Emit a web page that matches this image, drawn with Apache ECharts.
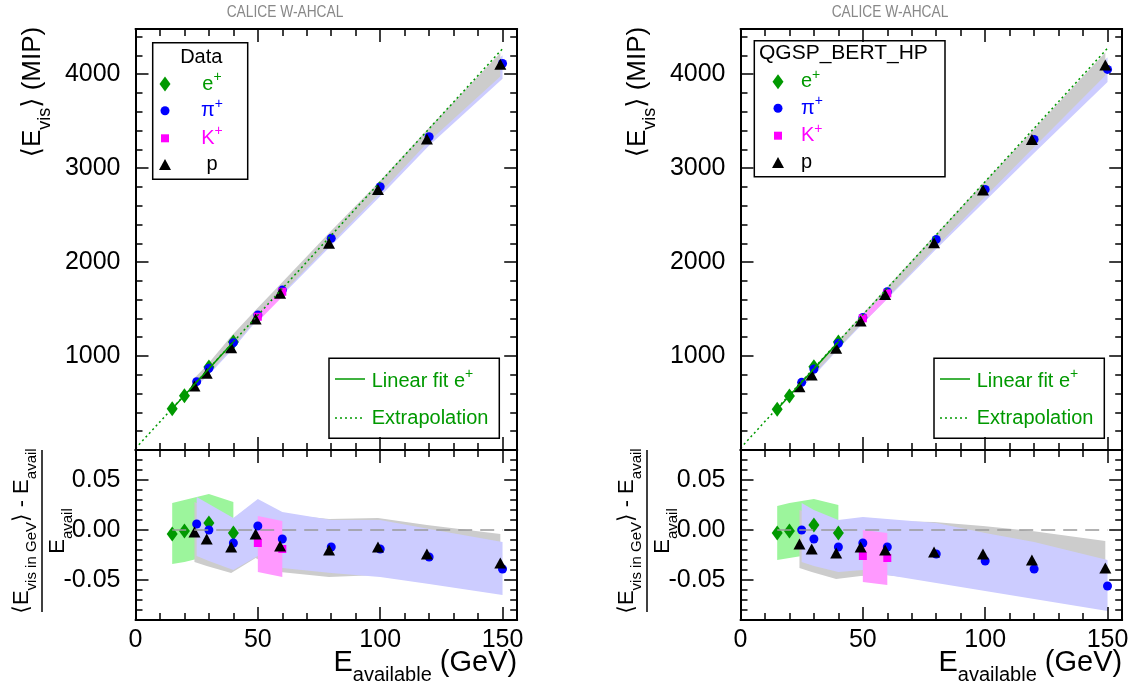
<!DOCTYPE html>
<html>
<head>
<meta charset="utf-8">
<script src="https://cdn.jsdelivr.net/npm/echarts@6.0.0/dist/echarts.min.js"></script>
<style>
html, body { margin: 0; padding: 0; background: #ffffff; }
#chart { width: 1134px; height: 691px; }
</style>
</head>
<body>
<div id="chart"></div>
<script>
// ===================== DATA =====================
const xTickLabels = [0, 50, 100, 150];
const yTopTickLabels = [1000, 2000, 3000, 4000];
const yBotTickLabels = [-0.05, 0.00, 0.05];

// available energies (GeV)
const energyE = [15, 20, 30, 40];                                  // e+
const energyPi = [25, 30, 40, 50, 60, 80, 100, 120, 150];          // pi+
const energyK = [50, 60];                                          // K+
const energyP = [24.1, 29.1, 39.1, 49.1, 59.1, 79.1, 99.1, 119.1, 149.1]; // p

// ---- Data panel: <E_vis> (MIP) ----
const dataVisE = [440, 578, 884, 1150];
const dataVisPi = [727, 869, 1142, 1436, 1702, 2252, 2801, 3333, 4113];
const dataVisK = [1418, 1684];
const dataVisP = [681, 816, 1089, 1394, 1667, 2199, 2773, 3309, 4106];
// ---- Data panel: relative residual ----
const dataResE = [-0.004, -0.001, 0.007, -0.003];
const dataResPi = [0.006, 0.000, -0.013, 0.004, -0.009, -0.017, -0.019, -0.027, -0.039];
const dataResK = [-0.013, -0.019];
const dataResP = [-0.002, -0.009, -0.017, -0.004, -0.016, -0.020, -0.017, -0.024, -0.033];
// ---- Data panel: uncertainty bands (top, MIP) ----
const dataTopBandPiUp = [760, 890, 1175, 1475, 1740, 2285, 2830, 3385, 4200];
const dataTopBandPiLo = [680, 800, 1080, 1395, 1650, 2175, 2700, 3240, 3950];
const dataTopBandPUp = [765, 900, 1210, 1490, 1760, 2310, 2840, 3405, 4225];
const dataTopBandPLo = [670, 790, 1075, 1380, 1645, 2180, 2710, 3265, 3975];
const dataTopBandKUp = [1445, 1725];
const dataTopBandKLo = [1365, 1630];
// ---- Data panel: uncertainty bands (residual) ----
const dataBandEUp = [0.027, 0.030, 0.036, 0.028];
const dataBandELo = [-0.034, -0.032, -0.026, -0.024];
const dataBandPUp = [0.028, 0.022, 0.010, 0.028, 0.016, 0.011, 0.012, 0.005, -0.004];
const dataBandPLo = [-0.032, -0.036, -0.043, -0.028, -0.042, -0.047, -0.045, -0.048, -0.050];
const dataBandPiUp = [0.033, 0.026, 0.012, 0.031, 0.018, 0.010, 0.010, 0.001, -0.012];
const dataBandPiLo = [-0.026, -0.031, -0.040, -0.026, -0.038, -0.043, -0.047, -0.054, -0.065];
const dataBandKUp = [0.014, 0.009];
const dataBandKLo = [-0.042, -0.047];
// ---- Data panel: e+ linear fit and extrapolation ----
const dataFitX = [15, 40];
const dataFitY = [440, 1150];
const dataExtrapX = [0, 150];
const dataExtrapY = [17, 4270];

// ---- QGSP_BERT_HP panel: <E_vis> (MIP) ----
const simVisE = [433, 574, 886, 1150];
const simVisPi = [720, 862, 1135, 1411, 1684, 2241, 2773, 3305, 4050];
const simVisK = [1401, 1667];
const simVisP = [674, 798, 1082, 1372, 1656, 2205, 2766, 3305, 4096];
// ---- QGSP_BERT_HP panel: relative residual ----
const simResE = [-0.003, -0.001, 0.005, -0.003];
const simResPi = [0.000, -0.009, -0.017, -0.013, -0.017, -0.024, -0.031, -0.039, -0.056];
const simResK = [-0.026, -0.028];
const simResP = [-0.014, -0.019, -0.023, -0.017, -0.020, -0.022, -0.024, -0.030, -0.038];
// ---- QGSP_BERT_HP panel: bands (top, MIP) ----
const simTopBandPiUp = [730, 870, 1150, 1430, 1715, 2270, 2800, 3340, 4180];
const simTopBandPiLo = [665, 790, 1075, 1345, 1610, 2140, 2650, 3160, 3915];
const simTopBandPUp = [705, 850, 1140, 1425, 1710, 2275, 2835, 3390, 4230];
const simTopBandPLo = [650, 785, 1060, 1335, 1600, 2140, 2670, 3200, 3985];
const simTopBandKUp = [1425, 1690];
const simTopBandKLo = [1350, 1610];
// ---- QGSP_BERT_HP panel: bands (residual) ----
const simBandEUp = [0.024, 0.027, 0.031, 0.025];
const simBandELo = [-0.030, -0.028, -0.024, -0.022];
const simBandPUp = [0.020, 0.016, 0.006, 0.009, 0.009, 0.008, 0.004, -0.001, -0.011];
const simBandPLo = [-0.038, -0.042, -0.049, -0.046, -0.045, -0.050, -0.055, -0.060, -0.070];
const simBandPiUp = [0.027, 0.020, 0.010, 0.013, 0.011, 0.007, -0.003, -0.012, -0.030];
const simBandPiLo = [-0.032, -0.036, -0.042, -0.040, -0.045, -0.053, -0.061, -0.069, -0.081];
const simBandKUp = [0.000, -0.003];
const simBandKLo = [-0.052, -0.055];
// ---- QGSP_BERT_HP panel: e+ fit ----
const simFitX = [15, 40];
const simFitY = [433, 1150];
const simExtrapX = [0, 150];
const simExtrapY = [20, 4275];

// reference line of the residual plots
const zeroLineX = [15, 150];
const zeroLineY = [0, 0];

// texts
const panelTitle = 'CALICE W-AHCAL';
const legendHeaders = ['Data', 'QGSP_BERT_HP'];
const legendNames = ['e', 'π', 'K', 'p'];
const legendSups = ['+', '+', '+', ''];
const fitLegendNames = ['Linear fit e', 'Extrapolation'];

// ===================== STYLE / LAYOUT =====================
const FONT = "'Liberation Sans', Arial, Helvetica, 'DejaVu Sans', sans-serif";
const C_GREEN = '#009900', C_BLUE = '#0000ff', C_MAG = '#ff00ff', C_BLACK = '#000000';
const B_GREEN = '#9cf59c', B_GRAY = '#cccccc', B_BLUE = '#ccccff', B_MAG = '#ff99ff';
const X_MIN = 0, X_MAX = 156;
const YT_MIN = 0, YT_MAX = 4480;
const YB_MIN = -0.09, YB_MAX = 0.08;
const PLOT_W = 381.7;
const PANEL_LEFT = [135.5, 740.5];
const TICK_FONT = 25;

const grids = [], xAxes = [], yAxes = [], series = [], graphics = [];

function addAxis(dim, gridIndex, position, min, max, interval, tickLen, showLine, label) {
  const ax = {
    type: 'value', gridIndex: gridIndex, position: position, min: min, max: max, interval: interval,
    axisLine: { show: showLine, onZero: false, lineStyle: { color: '#000', width: 2 } },
    axisTick: { show: tickLen > 0, inside: true, length: tickLen, lineStyle: { color: '#000', width: 1.5 } },
    axisLabel: { show: false },
    splitLine: { show: false },
    minorTick: { show: false },
    minorSplitLine: { show: false },
    axisPointer: { show: false },
    silent: true,
    z: 10
  };
  if (label) {
    ax.axisLabel = Object.assign({ show: true, color: '#000', fontSize: TICK_FONT, fontFamily: FONT,
      hideOverlap: false, showMinLabel: true, showMaxLabel: true }, label);
  }
  const arr = dim === 'x' ? xAxes : yAxes;
  arr.push(ax);
  return arr.length - 1;
}

function bandSeries(xi, yi, xs, up, lo, color) {
  return {
    type: 'custom', xAxisIndex: xi, yAxisIndex: yi, silent: true, animation: false,
    data: xs.map((x, i) => [x, lo[i], up[i]]),
    encode: { x: 0, y: [1, 2] },
    renderItem: function (params, api) {
      if (params.dataIndex !== 0) return;
      const top = xs.map((x, i) => api.coord([x, up[i]]));
      const bot = xs.map((x, i) => api.coord([x, lo[i]])).reverse();
      return { type: 'polygon', shape: { points: top.concat(bot) }, style: { fill: color } };
    }
  };
}
function pointSeries(xi, yi, xs, ys, symbol, size, color) {
  return {
    type: 'scatter', xAxisIndex: xi, yAxisIndex: yi, silent: true, animation: false,
    data: xs.map((x, i) => [x, ys[i]]), symbol: symbol, symbolSize: size,
    itemStyle: { color: color, opacity: 1, borderWidth: 0 }, emphasis: { disabled: true }
  };
}
function lineSeries(xi, yi, xs, ys, color, width, dash) {
  return {
    type: 'line', xAxisIndex: xi, yAxisIndex: yi, silent: true, animation: false,
    data: xs.map((x, i) => [x, ys[i]]), showSymbol: false, symbol: 'none',
    lineStyle: { color: color, width: width, type: dash || 'solid' }, emphasis: { disabled: true }
  };
}

const isTick = (arr, v) => arr.some(t => Math.abs(t - v) < 1e-9);

function buildPanel(p, d) {
  const L = PANEL_LEFT[p];
  const gT = grids.length; grids.push({ left: L, top: 29, width: PLOT_W, height: 421, outerBoundsMode: 'none' });
  const gB = grids.length; grids.push({ left: L, top: 450, width: PLOT_W, height: 170, outerBoundsMode: 'none' });
  const gM = grids.length; grids.push({ left: L, top: 480, width: PLOT_W, height: 100, outerBoundsMode: 'none' });

  // ---- top plot axes ----
  const tx = addAxis('x', gT, 'bottom', X_MIN, X_MAX, 10, 7, true);
  addAxis('x', gT, 'bottom', X_MIN, X_MAX, 50, 13, false);
  addAxis('x', gT, 'top', X_MIN, X_MAX, 10, 7, true);
  addAxis('x', gT, 'top', X_MIN, X_MAX, 50, 13, false);
  const ty = addAxis('y', gT, 'left', YT_MIN, YT_MAX, 200, 7, true);
  addAxis('y', gT, 'left', YT_MIN, YT_MAX, 1000, 13, false,
    { formatter: v => isTick(yTopTickLabels, v) ? String(v) : '', margin: 15 });
  addAxis('y', gT, 'right', YT_MIN, YT_MAX, 200, 7, true);
  addAxis('y', gT, 'right', YT_MIN, YT_MAX, 1000, 13, false);

  // ---- bottom plot axes ----
  const bx = addAxis('x', gB, 'bottom', X_MIN, X_MAX, 10, 7, true);
  addAxis('x', gB, 'bottom', X_MIN, X_MAX, 50, 13, false,
    { formatter: v => isTick(xTickLabels, v) ? String(v) : '', margin: 8 });
  addAxis('x', gB, 'top', X_MIN, X_MAX, 10, 7, true);
  addAxis('x', gB, 'top', X_MIN, X_MAX, 50, 13, false);
  const by = addAxis('y', gB, 'left', YB_MIN, YB_MAX, 0.01, 7, true);
  addAxis('y', gB, 'right', YB_MIN, YB_MAX, 0.01, 7, true);

  // ---- major ticks of the residual axis ----
  xAxes.push({ type: 'value', gridIndex: gM, show: false, min: 0, max: 1 });
  addAxis('y', gM, 'left', -0.05, 0.05, 0.05, 13, false,
    { formatter: v => isTick(yBotTickLabels, v) ? v.toFixed(2) : '', margin: 15 });
  addAxis('y', gM, 'right', -0.05, 0.05, 0.05, 13, false);

  // ---- top plot series ----
  series.push(bandSeries(tx, ty, energyPi, d.topPiUp, d.topPiLo, B_BLUE));
  series.push(bandSeries(tx, ty, energyP, d.topPUp, d.topPLo, B_GRAY));
  series.push(bandSeries(tx, ty, energyK, d.topKUp, d.topKLo, B_MAG));
  series.push(lineSeries(tx, ty, d.extrapX, d.extrapY, C_GREEN, 1.5, [2, 3]));
  series.push(lineSeries(tx, ty, d.fitX, d.fitY, C_GREEN, 1.5));
  series.push(pointSeries(tx, ty, energyE, d.visE, 'diamond', [11, 15], C_GREEN));
  series.push(pointSeries(tx, ty, energyPi, d.visPi, 'circle', 9, C_BLUE));
  series.push(pointSeries(tx, ty, energyK, d.visK, 'rect', 8, C_MAG));
  series.push(pointSeries(tx, ty, energyP, d.visP, 'triangle', [12, 11], C_BLACK));

  // ---- bottom plot series ----
  series.push(bandSeries(bx, by, energyE, d.bandEUp, d.bandELo, B_GREEN));
  series.push(bandSeries(bx, by, energyP, d.bandPUp, d.bandPLo, B_GRAY));
  series.push(bandSeries(bx, by, energyPi, d.bandPiUp, d.bandPiLo, B_BLUE));
  series.push(bandSeries(bx, by, energyK, d.bandKUp, d.bandKLo, B_MAG));
  series.push(lineSeries(bx, by, zeroLineX, zeroLineY, '#999999', 1.5, [14, 8]));
  series.push(pointSeries(bx, by, energyE, d.resE, 'diamond', [11, 15], C_GREEN));
  series.push(pointSeries(bx, by, energyPi, d.resPi, 'circle', 9, C_BLUE));
  series.push(pointSeries(bx, by, energyK, d.resK, 'rect', 8, C_MAG));
  series.push(pointSeries(bx, by, energyP, d.resP, 'triangle', [12, 11], C_BLACK));

  // ---- texts ----
  const dx = L - PANEL_LEFT[0];
  const RICH_Y = {
    b: { fontFamily: FONT, fontSize: 26, lineHeight: 42, fill: '#000' },
    s: { fontFamily: FONT, fontSize: 18, lineHeight: 18, verticalAlign: 'bottom', fill: '#000' }
  };
  const RICH_X = {
    b: { fontFamily: FONT, fontSize: 29, lineHeight: 44, fill: '#000' },
    s: { fontFamily: FONT, fontSize: 20, lineHeight: 20, verticalAlign: 'bottom', fill: '#000' }
  };
  graphics.push({ type: 'text', x: 285 + dx, y: 13, scaleX: 0.86, silent: true, z: 100,
    style: { text: panelTitle, fontFamily: FONT, fontSize: 16, fill: '#888888', align: 'center', verticalAlign: 'middle' } });
  graphics.push({ type: 'text', x: 33 + dx, y: 92, rotation: Math.PI / 2, silent: true, z: 100,
    style: { text: '{b|⟨E}{s|vis}{b|⟩ (MIP)}', rich: RICH_Y, align: 'center', verticalAlign: 'middle', fontFamily: FONT, fontSize: 26, fill: '#000' } });
  graphics.push({ type: 'text', x: L + PLOT_W, y: 663, silent: true, z: 100,
    style: { text: '{b|E}{s|available}{b| (GeV)}', rich: RICH_X, align: 'right', verticalAlign: 'middle', fontFamily: FONT, fontSize: 29, fill: '#000' } });
  const RICH_FR = {
    b: { fontFamily: FONT, fontSize: 22, lineHeight: 34, fill: '#000' },
    s: { fontFamily: FONT, fontSize: 15, lineHeight: 15, verticalAlign: 'bottom', fill: '#000' }
  };
  graphics.push({ type: 'group', x: 42 + dx, y: 531, rotation: Math.PI / 2, silent: true, z: 100, children: [
    { type: 'text', x: 0, y: -20, style: { text: '{b|⟨E}{s|vis in GeV}{b|⟩ - E}{s|avail}', rich: RICH_FR, align: 'center', verticalAlign: 'middle', fontFamily: FONT, fontSize: 22 } },
    { type: 'line', shape: { x1: -81, y1: 0, x2: 81, y2: 0 }, style: { stroke: '#000', lineWidth: 1.5 } },
    { type: 'text', x: 0, y: 16, style: { text: '{b|E}{s|avail}', rich: RICH_FR, align: 'center', verticalAlign: 'middle', fontFamily: FONT, fontSize: 22 } }
  ] });

  // ---- particle legend ----
  const colors = [C_GREEN, C_BLUE, C_MAG, C_BLACK];
  const kinds = ['diamond', 'circle', 'rect', 'triangle'];
  const leg = p === 0
    ? { box: [152.7, 42.7, 95, 136.6], head: [201.3, 57.5, 'center'], iconX: 165, textX: 212, align: 'center', ys: [84, 110.7, 138.3, 164.5] }
    : { box: [754.3, 40.7, 190.7, 136], head: [759, 53, 'left'], iconX: 778, textX: 801, align: 'left', ys: [81.7, 108.3, 135.7, 162.5] };
  const children = [
    { type: 'rect', shape: { x: leg.box[0], y: leg.box[1], width: leg.box[2], height: leg.box[3] }, style: { fill: '#fff', stroke: '#000', lineWidth: 1.5 } },
    { type: 'text', x: leg.head[0], y: leg.head[1], style: { text: legendHeaders[p], fontFamily: FONT, fontSize: p === 0 ? 20 : 21, fill: '#000', align: leg.head[2], verticalAlign: 'middle' } }
  ];
  legendNames.forEach((nm, i) => {
    const cx = leg.iconX, cy = leg.ys[i], col = colors[i];
    let ic;
    if (kinds[i] === 'diamond') ic = { type: 'polygon', shape: { points: [[cx, cy - 7.5], [cx + 5.5, cy], [cx, cy + 7.5], [cx - 5.5, cy]] }, style: { fill: col } };
    else if (kinds[i] === 'circle') ic = { type: 'circle', shape: { cx: cx, cy: cy, r: 4.5 }, style: { fill: col } };
    else if (kinds[i] === 'rect') ic = { type: 'rect', shape: { x: cx - 4, y: cy - 4, width: 8, height: 8 }, style: { fill: col } };
    else ic = { type: 'polygon', shape: { points: [[cx, cy - 5.5], [cx + 6, cy + 5.5], [cx - 6, cy + 5.5]] }, style: { fill: col } };
    children.push(ic);
    const txt = legendSups[i] ? '{m|' + nm + '}{u|' + legendSups[i] + '}' : '{m|' + nm + '}';
    children.push({ type: 'text', x: leg.textX, y: cy, style: { text: txt, align: leg.align, verticalAlign: 'middle', fontFamily: FONT, fontSize: 20,
      rich: { m: { fontFamily: FONT, fontSize: 20, lineHeight: 28, fill: col }, u: { fontFamily: FONT, fontSize: 14, lineHeight: 14, verticalAlign: 'top', fill: col } } } });
  });
  // ---- fit legend ----
  const fx = 329 + dx;
  children.push({ type: 'rect', shape: { x: fx, y: 358.3, width: 170.3, height: 80 }, style: { fill: '#fff', stroke: '#000', lineWidth: 1.5 } });
  children.push({ type: 'line', shape: { x1: fx + 6, y1: 379, x2: fx + 36, y2: 379 }, style: { stroke: C_GREEN, lineWidth: 1.5 } });
  children.push({ type: 'line', shape: { x1: fx + 6, y1: 418, x2: fx + 36, y2: 418 }, style: { stroke: C_GREEN, lineWidth: 1.5, lineDash: [2, 3] } });
  const RICH_G = { m: { fontFamily: FONT, fontSize: 20, lineHeight: 28, fill: C_GREEN }, u: { fontFamily: FONT, fontSize: 14, lineHeight: 14, verticalAlign: 'top', fill: C_GREEN } };
  children.push({ type: 'text', x: fx + 42.7, y: 381, style: { text: '{m|' + fitLegendNames[0] + '}{u|+}', rich: RICH_G, align: 'left', verticalAlign: 'middle', fontFamily: FONT, fontSize: 20 } });
  children.push({ type: 'text', x: fx + 42.7, y: 418, style: { text: '{m|' + fitLegendNames[1] + '}', rich: RICH_G, align: 'left', verticalAlign: 'middle', fontFamily: FONT, fontSize: 20 } });
  graphics.push({ type: 'group', silent: true, z: 100, children: children });
}

buildPanel(0, {
  visE: dataVisE, visPi: dataVisPi, visK: dataVisK, visP: dataVisP,
  resE: dataResE, resPi: dataResPi, resK: dataResK, resP: dataResP,
  topPiUp: dataTopBandPiUp, topPiLo: dataTopBandPiLo, topPUp: dataTopBandPUp, topPLo: dataTopBandPLo,
  topKUp: dataTopBandKUp, topKLo: dataTopBandKLo,
  bandEUp: dataBandEUp, bandELo: dataBandELo, bandPUp: dataBandPUp, bandPLo: dataBandPLo,
  bandPiUp: dataBandPiUp, bandPiLo: dataBandPiLo, bandKUp: dataBandKUp, bandKLo: dataBandKLo,
  fitX: dataFitX, fitY: dataFitY, extrapX: dataExtrapX, extrapY: dataExtrapY
});
buildPanel(1, {
  visE: simVisE, visPi: simVisPi, visK: simVisK, visP: simVisP,
  resE: simResE, resPi: simResPi, resK: simResK, resP: simResP,
  topPiUp: simTopBandPiUp, topPiLo: simTopBandPiLo, topPUp: simTopBandPUp, topPLo: simTopBandPLo,
  topKUp: simTopBandKUp, topKLo: simTopBandKLo,
  bandEUp: simBandEUp, bandELo: simBandELo, bandPUp: simBandPUp, bandPLo: simBandPLo,
  bandPiUp: simBandPiUp, bandPiLo: simBandPiLo, bandKUp: simBandKUp, bandKLo: simBandKLo,
  fitX: simFitX, fitY: simFitY, extrapX: simExtrapX, extrapY: simExtrapY
});

const chart = echarts.init(document.getElementById('chart'), null, { renderer: 'canvas', width: 1134, height: 691 });
chart.setOption({
  animation: false,
  backgroundColor: '#ffffff',
  grid: grids,
  xAxis: xAxes,
  yAxis: yAxes,
  series: series,
  graphic: { elements: graphics }
});
</script>
</body>
</html>
